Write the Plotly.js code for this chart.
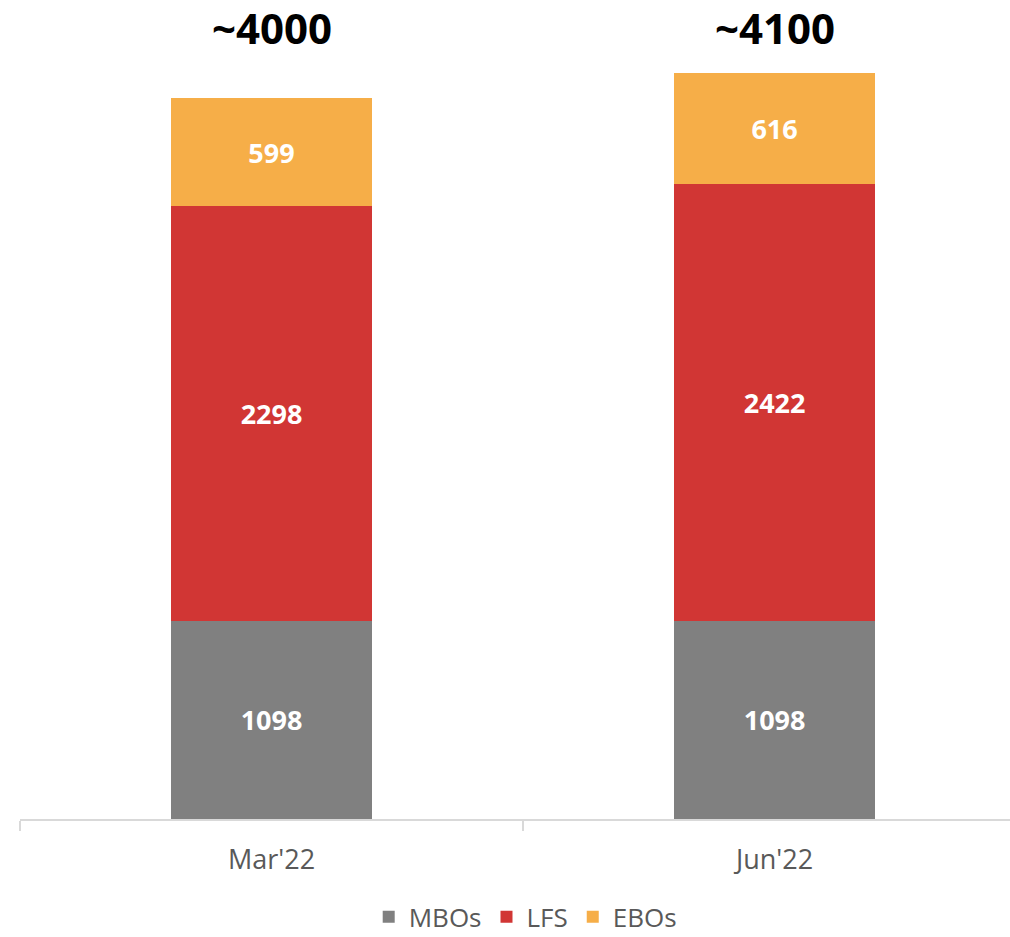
<!DOCTYPE html>
<html>
<head>
<meta charset="utf-8">
<script src="https://cdn.plot.ly/plotly-3.0.1.min.js"></script>
<style>html,body{margin:0;padding:0;background:#fff;}#chart{width:1010px;height:937px;}</style>
</head>
<body>
<div id="chart"></div>
<script>
const categories = ["Mar'22", "Jun'22"];
const mbos = [1098, 1098];
const lfs = [2298, 2422];
const ebos = [599, 616];
const totalLabels = ["~4000", "~4100"];

const font = '"Open Sans", "Noto Sans", sans-serif';
function bar(name, vals, color) {
  return {
    type: 'bar', name: name, x: categories, y: vals,
    marker: {color: color, line: {width: 0}},
    width: 0.4,
    text: vals.map(String), textposition: 'inside', insidetextanchor: 'middle',
    textangle: 0,
    textfont: {family: font, size: 27, color: '#ffffff', weight: 'bold'},
    hoverinfo: 'x+y+name'
  };
}
const data = [
  bar('MBOs', mbos, '#808080'),
  bar('LFS', lfs, '#D13634'),
  bar('EBOs', ebos, '#F6AE48')
];
const annotations = categories.map((c, i) => ({
  x: c, y: 4385, xref: 'x', yref: 'y', text: '<b>' + totalLabels[i] + '</b>',
  showarrow: false, yanchor: 'middle', xanchor: 'center',
  font: {family: font, size: 42, color: '#000000'}
}));
const layout = {
  width: 1010, height: 937,
  margin: {l: 20, r: 0, t: 20, b: 118},
  barmode: 'stack',
  paper_bgcolor: '#ffffff', plot_bgcolor: '#ffffff',
  showlegend: true,
  legend: {orientation: 'h', x: 0.52, xanchor: 'center', xref: 'container',
           y: 0.0215, yanchor: 'middle', yref: 'container',
           itemwidth: 30, tracegroupgap: 0,
           traceorder: 'normal', font: {family: font, size: 26, color: '#595959'}},
  xaxis: {type: 'category', range: [-0.5, 1.468], showline: true, linecolor: '#d9d9d9', linewidth: 2,
          ticks: 'outside', tickson: 'boundaries', ticklen: 10, tickwidth: 2, tickcolor: '#d9d9d9',
          ticklabelstandoff: 16, automargin: false,
          tickfont: {family: font, size: 27, color: '#595959'}, showgrid: false, zeroline: false, fixedrange: true},
  yaxis: {range: [0, 4429], visible: false, showgrid: false, zeroline: false, fixedrange: true, automargin: false},
  annotations: annotations
};
Plotly.newPlot('chart', data, layout, {displayModeBar: false, staticPlot: true});
</script>
</body>
</html>
